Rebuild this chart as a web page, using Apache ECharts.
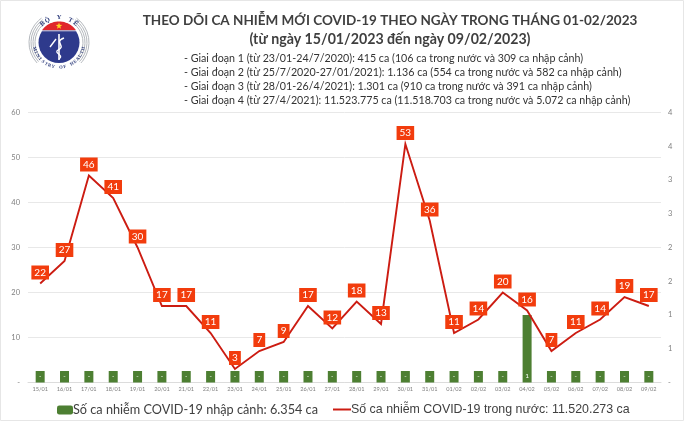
<!DOCTYPE html>
<html><head><meta charset="utf-8">
<style>html,body{margin:0;padding:0;background:#fff}#c{width:684px;height:421px}</style>
<script src="https://cdn.jsdelivr.net/npm/echarts@6/dist/echarts.min.js"></script>
</head><body><div id="c"></div>
<script>
const days = ['15/01','16/01','17/01','18/01','19/01','20/01','21/01','22/01','23/01','24/01','25/01','26/01','27/01','28/01','29/01','30/01','31/01','01/02','02/02','03/02','04/02','05/02','06/02','07/02','08/02','09/02'];
const domestic = [22,27,46,41,30,17,17,11,3,7,9,17,12,18,13,53,36,11,14,20,16,7,11,14,19,17];
// Reference draws its zero days as short stubs labelled "-"
const imported = [.17,.17,.17,.17,.17,.17,.17,.17,.17,.17,.17,.17,.17,.17,.17,.17,.17,.17,.17,.17,1,.17,.17,.17,.17,.17];
const importedName = 'Số ca nhiễm COVID-19 nhập cảnh: 6.354 ca';
const domesticName = 'Số ca nhiễm COVID-19 trong nước: 11.520.273 ca';
const heading = ['THEO DÕI CA NHIỄM MỚI COVID-19 THEO NGÀY TRONG THÁNG 01-02/2023','(từ ngày 15/01/2023 đến ngày 09/02/2023)'];
const stages = [
 '- Giai đoạn 1 (từ 23/01-24/7/2020): 415 ca (106 ca trong nước và 309 ca nhập cảnh)',
 '- Giai đoạn 2 (từ 25/7/2020-27/01/2021): 1.136 ca (554 ca trong nước và 582 ca nhập cảnh)',
 '- Giai đoạn 3 (từ 28/01-26/4/2021): 1.301 ca (910 ca trong nước và 391 ca nhập cảnh)',
 '- Giai đoạn 4 (từ 27/4/2021): 11.523.775 ca (11.518.703 ca trong nước và 5.072 ca nhập cảnh)'];

const FONT = 'Lato, "Noto Sans", sans-serif';
const titles = [
 {text:heading[0],left:390,top:14,textAlign:'center',textStyle:{fontFamily:FONT,fontSize:13.5,fontWeight:700,color:'#3f3f3f'}},
 {text:heading[1],left:390,top:32.5,textAlign:'center',textStyle:{fontFamily:FONT,fontSize:14.2,fontWeight:700,color:'#3f3f3f'}}
].concat(stages.map((s,i)=>({text:s,left:184,top:[53,67.5,81.5,95][i],textStyle:{fontFamily:FONT,fontSize:10.7,fontWeight:400,color:'#333'}})));
titles.forEach(t=>{t.padding=0;});

// Ministry of Health emblem (decoration)
function logo(){
 const cx=59,cy=42.5,r=20.5,els=[];
 const gray='#b4b8bd';
 [24,26,28,30].forEach(R=>{
  els.push({type:'arc',shape:{cx,cy,r:R,startAngle:-0.95,endAngle:0.75},style:{stroke:gray,lineWidth:1,fill:null}});
  els.push({type:'arc',shape:{cx,cy,r:R,startAngle:Math.PI-0.75,endAngle:Math.PI+0.95},style:{stroke:gray,lineWidth:1,fill:null}});
 });
 els.push({type:'circle',shape:{cx,cy,r},style:{fill:'#2e3a8c'}});
 const seg=[];const h=-12;const a0=Math.asin(h/r);
 const st=Math.PI-a0, en=2*Math.PI+a0;
 for(let i=0;i<=40;i++){const a=st+(en-st)*i/40;seg.push([cx+(r+.5)*Math.cos(a),cy+(r+.5)*Math.sin(a)]);}
 els.push({type:'polygon',shape:{points:seg},style:{fill:'#e0262b'}});
 els.push({type:'line',shape:{x1:cx-17,y1:cy+h+.3,x2:cx+17,y2:cy+h+.3},style:{stroke:'#fff',lineWidth:.8}});
 const star=[];for(let i=0;i<10;i++){const a=-Math.PI/2+i*Math.PI/5,q=i%2?1.4:3.4;star.push([cx+q*Math.cos(a),26+q*Math.sin(a)]);}
 els.push({type:'polygon',shape:{points:star},style:{fill:'#ffd21f'}});
 els.push({type:'line',shape:{x1:cx,y1:34,x2:cx,y2:60},style:{stroke:'#fff',lineWidth:1.6}});
 els.push({type:'bezierCurve',shape:{x1:cx+5,y1:38,cpx1:cx-6,cpy1:42,cpx2:cx+8,cpy2:46,x2:cx-1,y2:50},style:{stroke:'#fff',lineWidth:1.5,fill:null}});
 els.push({type:'bezierCurve',shape:{x1:cx-1,y1:50,cpx1:cx-6,cpy1:53,cpx2:cx+6,cpy2:55,x2:cx,y2:59},style:{stroke:'#fff',lineWidth:1.3,fill:null}});
 els.push({type:'line',shape:{x1:cx-9,y1:47,x2:cx-3,y2:39},style:{stroke:'#fff',lineWidth:1.4}});
 const curved=(txt,R,mid,step,size,top)=>{
  [...txt].forEach((ch,i)=>{
   const off=(i-(txt.length-1)/2)*step; const a=mid+(top?off:-off);
   els.push({type:'text',x:cx+R*Math.cos(a),y:cy+R*Math.sin(a),rotation:top?-(a+Math.PI/2):-(a-Math.PI/2),
    style:{text:ch,font:'bold '+size+'px "Liberation Serif", serif',fill:'#2b3a7a',align:'center',verticalAlign:'middle'}});
  });
 };
 curved('BỘ Y TẾ',25,-Math.PI/2,0.24,6.5,true);
 curved('MINISTRY OF HEALTH',25,Math.PI/2,0.155,4.6,false);
 return els;
}
const frame={type:'rect',shape:{x:.5,y:.5,width:683,height:420},style:{fill:null,stroke:'#e6e6e6',lineWidth:1},silent:true};

const chart=echarts.init(document.getElementById('c'),null,{renderer:'canvas'});
chart.setOption({
 animation:false,backgroundColor:'#fff',
 title:titles,
 graphic:[frame].concat(logo()),
 legend:[
  {data:[{name:importedName}],left:57,top:403.5,itemWidth:16,itemHeight:9,selectedMode:false,padding:0,
   textStyle:{fontFamily:FONT,fontSize:12.7,color:'#404040',padding:[0,0,0,-5]}},
  {data:[{name:domesticName}],left:333,top:403.5,icon:'rect',itemWidth:18,itemHeight:2,selectedMode:false,padding:0,
   itemStyle:{color:'#cc1c12'},
   textStyle:{fontFamily:'"Liberation Sans",Arial,sans-serif',fontSize:12.4,color:'#404040',padding:[0,0,0,-5]}}
 ],
 grid:{left:28,right:23,top:112.5,bottom:38.5,containLabel:false},
 xAxis:{type:'category',data:days,boundaryGap:true,
  axisTick:{show:false},axisLine:{lineStyle:{color:'#dcdcdc',width:1}},
  axisLabel:{fontSize:5.6,color:'#7f7f7f',margin:4,interval:0,fontFamily:FONT}},
 yAxis:[
  {type:'value',min:0,max:60,interval:10,axisLine:{show:false},axisTick:{show:false},
   splitLine:{lineStyle:{color:'#e8e8e8',width:1}},
   axisLabel:{fontSize:7.5,color:'#808080',margin:8,fontFamily:FONT,formatter:v=>v===0?'-':String(v)}},
  {type:'value',min:0,max:4,interval:.5,position:'right',axisLine:{show:false},axisTick:{show:false},splitLine:{show:false},
   axisLabel:{fontSize:7.5,color:'#808080',margin:7,fontFamily:FONT,formatter:v=>v===0?'-':String(Math.round(v+1e-9))}}
 ],
 series:[
  {type:'bar',name:importedName,yAxisIndex:1,data:imported,barWidth:9,z:2,
   itemStyle:{color:'#4d7f32'},
   label:{show:true,position:'insideBottom',distance:3,fontSize:6.5,color:'#fff',fontFamily:FONT,formatter:p=>p.value>=.5?String(Math.round(p.value)):'-'}},
  {type:'line',name:domesticName,data:domestic,symbol:'circle',symbolSize:0,showSymbol:true,z:3,
   lineStyle:{color:'#cc1c12',width:1.9,join:'miter'},itemStyle:{color:'#cc1c12'},
   label:{show:true,position:'top',distance:4,fontFamily:FONT,fontSize:10,color:'#fff',backgroundColor:'#f23c0d',padding:[2,3,2,3],lineHeight:10}}
 ]
});
</script></body></html>
